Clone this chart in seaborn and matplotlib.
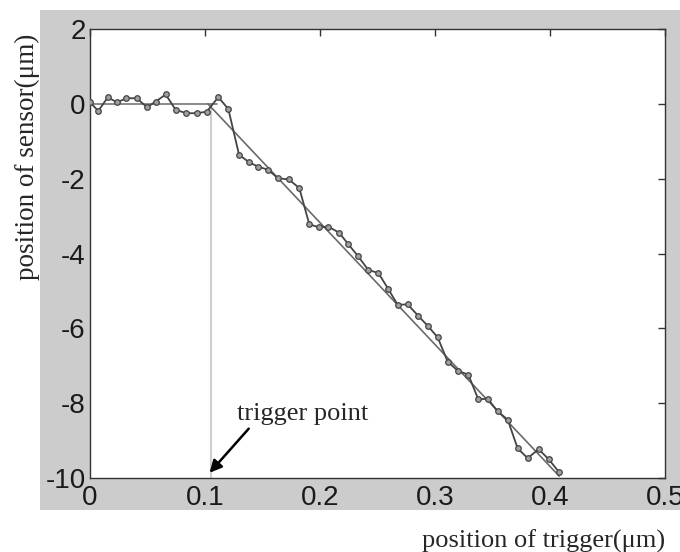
"""Sensor position vs trigger position, with fitted segments"""

import matplotlib
matplotlib.use('Agg')
import matplotlib.pyplot as plt
from matplotlib.patches import Rectangle
import seaborn as sns

trigger_pos = [0.0, 0.0072, 0.0154, 0.0237, 0.0316, 0.0406, 0.0496, 0.0571,
               0.0658, 0.0745, 0.0837, 0.0928, 0.1015, 0.1116, 0.1203, 0.1296,
               0.1383, 0.1461, 0.1548, 0.1635, 0.1728, 0.182, 0.1907, 0.1991,
               0.207, 0.2165, 0.2243, 0.2333, 0.242, 0.2507, 0.2594, 0.2675,
               0.2763, 0.2855, 0.2936, 0.3023, 0.311, 0.3197, 0.329, 0.3377,
               0.3458, 0.3545, 0.3632, 0.3719, 0.3806, 0.3901, 0.3989, 0.4078]
sensor_pos = [0.04, -0.19, 0.17, 0.04, 0.15, 0.15, -0.09, 0.06,
              0.25, -0.16, -0.25, -0.25, -0.21, 0.18, -0.14, -1.36,
              -1.56, -1.68, -1.76, -1.99, -2.02, -2.25, -3.22, -3.30,
              -3.28, -3.44, -3.74, -4.08, -4.44, -4.52, -4.95, -5.37,
              -5.36, -5.67, -5.93, -6.24, -6.89, -7.13, -7.24, -7.90,
              -7.88, -8.22, -8.44, -9.21, -9.47, -9.23, -9.50, -9.84]

# fitted segments
flat_x = [0.0, 0.11]
flat_y = [0.0, 0.0]
slope_x = [0.1025, 0.408]
slope_y = [0.0, -9.95]
trigger_x = [0.105, 0.105]
trigger_y = [0.0, -10.0]

sns.set_style('white')
plt.rcParams['axes.unicode_minus'] = False
fig = plt.figure(figsize=(6.8, 5.52), dpi=100)
fig.patch.set_facecolor('white')
# grey matlab-like figure panel, kept behind the axes
fig.patches.append(Rectangle((40 / 680, 1 - 510 / 552), 640 / 680, 500 / 552,
                             transform=fig.transFigure, facecolor='#cccccc',
                             edgecolor='none', zorder=-10))
ax = fig.add_axes([90 / 680, 1 - 478 / 552, 575 / 680, 449 / 552])
ax.set_zorder(1)
ax.set_facecolor('white')

ax.plot(trigger_x, trigger_y, color='#cfcfcf', lw=1.5, zorder=1)
sns.lineplot(x=flat_x, y=flat_y, ax=ax, color='#777777', lw=1.2, zorder=2)
sns.lineplot(x=slope_x, y=slope_y, ax=ax, color='#6a6a6a', lw=1.2, zorder=2)
sns.lineplot(x=trigger_pos, y=sensor_pos, ax=ax, color='#444444', lw=1.3,
             marker='o', markersize=4, markerfacecolor='#a0a0a0',
             markeredgecolor='#444444', markeredgewidth=0.9, zorder=3)

ax.set_xlim(0, 0.5)
ax.set_ylim(-10, 2)
ax.set_xticks([0, 0.1, 0.2, 0.3, 0.4, 0.5])
ax.set_xticklabels(['0', '0.1', '0.2', '0.3', '0.4', '0.5'])
ax.set_yticks([-10, -8, -6, -4, -2, 0, 2])
ax.tick_params(direction='in', length=5, width=1, color='#333333',
               top=True, right=True, labelsize=20, labelcolor='#1a1a1a',
               labelfontfamily='Liberation Sans')
ax.tick_params(axis='x', pad=5)
ax.tick_params(axis='y', pad=3)
for s in ax.spines.values():
    s.set_color('#333333')
    s.set_linewidth(1.0)

ax.annotate('trigger point', xy=(0.104, -9.86), xytext=(0.128, -8.3),
            fontsize=19, family='Liberation Serif', va='center', ha='left',
            arrowprops=dict(arrowstyle='-|>', color='black', lw=1.8,
                            mutation_scale=18, shrinkA=0, shrinkB=0,
                            relpos=(0.11, 0.0)))

fig.text(665 / 680, 1 - 541 / 552, 'position of trigger(μm)', ha='right',
         va='center', fontsize=19, family='Liberation Serif')
fig.text(27 / 680, 1 - 157 / 552, 'position of sensor(μm)', ha='center',
         va='center', rotation=90, fontsize=19.5, family='Liberation Serif')

fig.savefig('out.png', dpi=100)
